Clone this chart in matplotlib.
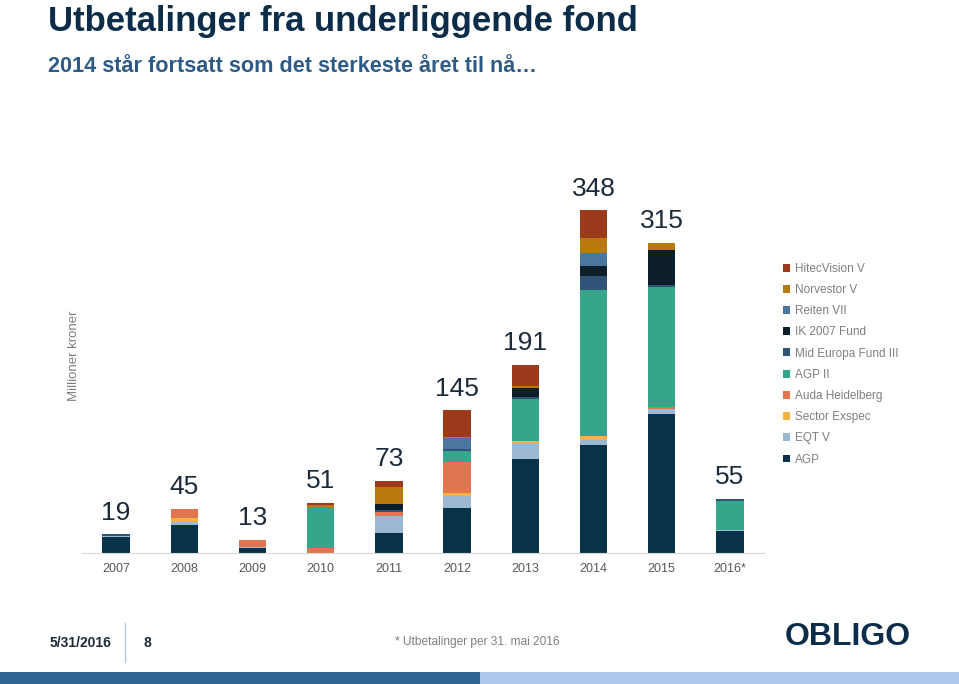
import numpy as np
import matplotlib.pyplot as plt
from matplotlib.patches import Rectangle, Patch
from matplotlib.lines import Line2D

plt.rcParams['font.family'] = ['Liberation Sans', 'DejaVu Sans']

years = ["2007", "2008", "2009", "2010", "2011", "2012", "2013", "2014", "2015", "2016*"]
totals = [19, 45, 13, 51, 73, 145, 191, 348, 315, 55]

# stack order bottom -> top
funds = ["AGP", "EQT V", "Sector Exspec", "Auda Heidelberg", "AGP II",
         "Mid Europa Fund III", "IK 2007 Fund", "Reiten VII", "Norvestor V", "HitecVision V"]
colors = ["#08324A", "#9DB8D3", "#F2B441", "#E07550", "#35A68A",
          "#2F5478", "#0D1F2B", "#4A76A0", "#B8790F", "#9B3B1C"]

agp        = [16, 28, 5.5, 0, 20, 46, 96, 110, 141, 22]
eqt_v      = [1.5, 3, 0.5, 0, 18, 12, 16, 5, 5, 1]
sector     = [0, 5, 0, 0, 0, 3, 2, 4, 0, 0]
auda       = [0, 9, 7, 5, 4, 31, 0, 0, 2, 0]
agp_ii     = [0, 0, 0, 41, 0, 12, 42, 148, 122, 30]
mid_europa = [1.5, 0, 0, 0, 2, 2, 2, 14, 2, 2]
ik_2007    = [0, 0, 0, 0, 6, 0, 10, 11, 36, 0]
reiten     = [0, 0, 0, 0, 0, 11, 0, 13, 0, 0]
norvestor  = [0, 0, 0, 3, 17, 1, 2, 15, 7, 0]
hitec      = [0, 0, 0, 2, 6, 27, 21, 28, 0, 0]

series = [agp, eqt_v, sector, auda, agp_ii, mid_europa, ik_2007, reiten, norvestor, hitec]

fig = plt.figure(figsize=(9.59, 6.84), dpi=100)
ax = fig.add_axes([82 / 959, (684 - 553) / 684, 682 / 959, 374 / 684])

x = np.arange(len(years))
bottom = np.zeros(len(years))
for vals, c in zip(series, colors):
    vals = np.array(vals, dtype=float)
    ax.bar(x, vals, width=0.4, bottom=bottom, color=c, edgecolor="none")
    bottom += vals

for xi, t, top in zip(x, totals, bottom):
    ax.annotate(str(t), (xi, top), xytext=(0, 7), textcoords="offset points",
                ha="center", va="bottom", fontsize=19, color="#1B2B3A")

ax.set_xlim(-0.5, 9.5)
ax.set_ylim(0, 380)
ax.set_xticks(x)
ax.set_xticklabels(years, fontsize=9, color="#595959")
ax.tick_params(axis="x", length=0, pad=7)
ax.set_yticks([])
for s in ["top", "right", "left"]:
    ax.spines[s].set_visible(False)
ax.spines["bottom"].set_color("#D9D9D9")
ax.set_ylabel("Millioner kroner", fontsize=9.5, color="#7F7F7F")
ax.yaxis.set_label_coords(-0.003, 0.527)

handles = [Patch(facecolor=c, edgecolor="none") for c in colors[::-1]]
fig.legend(handles, funds[::-1], loc="upper left", bbox_to_anchor=(778 / 959, 1 - 258 / 684),
           frameon=False, fontsize=8.5, labelcolor="#7F7F7F", handlelength=0.65,
           handleheight=0.65, handletextpad=0.35, labelspacing=0.78, borderaxespad=0)

# titles
fig.text(48 / 959, 1 - 22 / 684, "Utbetalinger fra underliggende fond", fontsize=25,
         fontweight="bold", color="#0B2D4A", va="center", ha="left")
fig.text(48 / 959, 1 - 67 / 684, "2014 står fortsatt som det sterkeste året til nå…",
         fontsize=15.6, fontweight="bold", color="#2E5A86", va="center", ha="left")

# footer
fig.text(50 / 959, 1 - 643 / 684, "5/31/2016", fontsize=10, fontweight="bold",
         color="#1B2B3A", va="center")
fig.add_artist(Line2D([125 / 959, 125 / 959], [1 - 623 / 684, 1 - 662 / 684],
                      color="#B8C7D9", lw=1))
fig.text(143 / 959, 1 - 643 / 684, "8", fontsize=10, fontweight="bold",
         color="#1B2B3A", va="center")
fig.text(395 / 959, 1 - 642 / 684, "* Utbetalinger per 31. mai 2016", fontsize=8.6,
         color="#7F7F7F", va="center")
fig.text(848 / 959, 1 - 637 / 684, "OBLIGO", fontsize=23, fontweight="bold",
         color="#0B2D4A", va="center", ha="center")
fig.add_artist(Rectangle((0, 0), 480 / 959, 12 / 684, transform=fig.transFigure,
                         facecolor="#2E6491", edgecolor="none"))
fig.add_artist(Rectangle((480 / 959, 0), 479 / 959, 12 / 684, transform=fig.transFigure,
                         facecolor="#AFC8EC", edgecolor="none"))

fig.savefig("out.png", dpi=100)
